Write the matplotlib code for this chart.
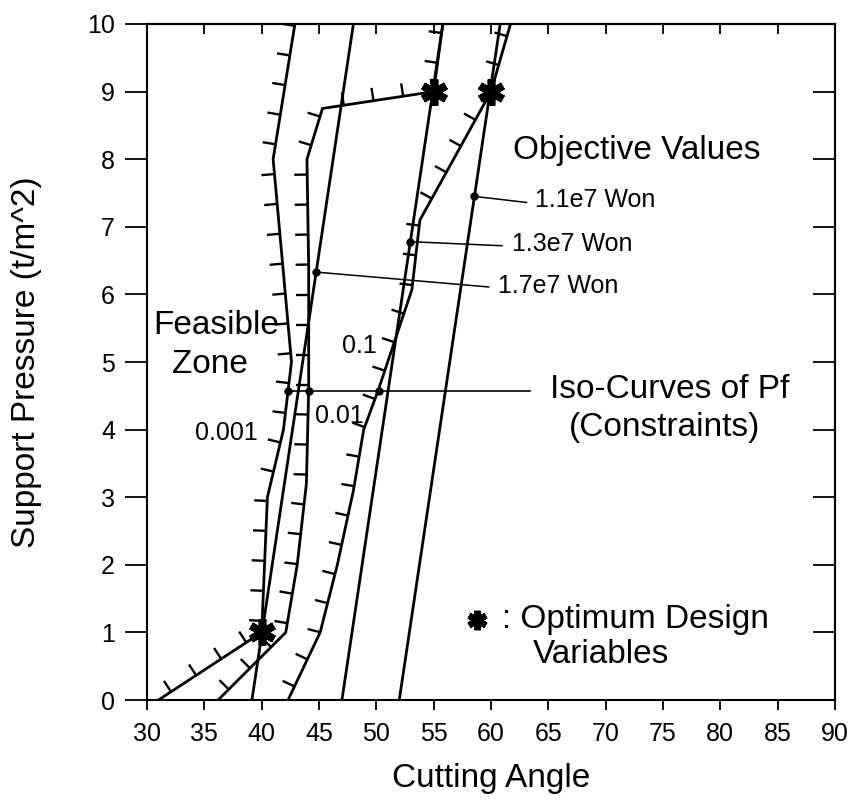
import numpy as np
import matplotlib
matplotlib.use("Agg")
import matplotlib.pyplot as plt

plt.rcParams['font.family'] = ['Liberation Sans', 'DejaVu Sans']

# Iso-curves of probability of failure (constraints)
pf_labels = ["0.001", "0.01", "0.1"]
pf_001_x = [31.0, 40.0, 40.5, 41.9, 42.6, 41.0, 42.9]
pf_001_y = [0.0, 1.0, 3.0, 4.0, 5.0, 8.0, 10.0]
pf_01_x = [36.2, 42.1, 43.1, 43.9, 44.1, 44.1, 43.95, 45.3, 55.0, 55.8]
pf_01_y = [0.0, 1.0, 2.0, 3.2, 4.6, 6.4, 8.0, 8.75, 9.0, 10.0]
pf_1_x = [42.3, 45.1, 46.6, 48.0, 48.9, 50.2, 53.1, 53.8, 60.0, 61.7]
pf_1_y = [0.0, 1.0, 2.0, 3.1, 4.0, 4.6, 6.07, 7.1, 9.0, 10.0]

# Objective (cost) iso-lines
obj_labels = ["1.1e7 Won", "1.3e7 Won", "1.7e7 Won"]
obj_x0 = [52.0, 47.0, 39.15]   # cutting angle at support pressure 0
obj_x1 = [60.8, 55.8, 48.0]    # cutting angle at support pressure 10
obj_dot_y = [7.45, 6.78, 6.33]
obj_text_x = [63.87, 61.82, 60.57]
obj_text_y = [7.29, 6.64, 6.02]
obj_line_end = [(63.1, 7.36), (60.95, 6.72), (59.8, 6.11)]

# Pf marker row
pf_dot_y = 4.57
pf_dot_x = [42.3, 44.1, 50.2]

# Optimum design variables
opt_x = [40.0, 55.0, 60.0]
opt_y = [1.0, 9.0, 9.0]

fig = plt.figure(figsize=(8.56, 8.05), dpi=100)
ax = fig.add_axes([147 / 856, 1 - 700 / 805, 688 / 856, 676 / 805])
ax.set_xlim(30, 90)
ax.set_ylim(0, 10)

LW = 2.0


def hatched(ax, xs, ys, spacing=30.0, length=13.0):
    """Draw a constraint curve with short ticks on its left-hand side."""
    ax.plot(xs, ys, color='black', lw=LW, solid_joinstyle='miter')
    pts = ax.transData.transform(np.column_stack([xs, ys]))
    seg = np.diff(pts, axis=0)
    seglen = np.hypot(seg[:, 0], seg[:, 1])
    cum = np.concatenate([[0], np.cumsum(seglen)])
    s = spacing * 0.5
    inv = ax.transData.inverted()
    while s < cum[-1]:
        i = np.searchsorted(cum, s) - 1
        i = max(0, min(i, len(seg) - 1))
        d = seg[i] / seglen[i]
        p = pts[i] + d * (s - cum[i])
        n = np.array([-d[1], d[0]])
        q = p + n * length
        a, b = inv.transform(np.vstack([p, q]))
        if 0 <= a[1] <= 10:
            ax.plot([a[0], b[0]], [a[1], b[1]], color='black', lw=1.7,
                    solid_capstyle='butt')
        s += spacing


hatched(ax, pf_001_x, pf_001_y)
hatched(ax, pf_01_x, pf_01_y)
hatched(ax, pf_1_x, pf_1_y)

# objective lines with leader lines to their labels
for x0, x1, dy, lab, tx, ty, end in zip(obj_x0, obj_x1, obj_dot_y, obj_labels,
                                         obj_text_x, obj_text_y, obj_line_end):
    ax.plot([x0, x1], [0, 10], color='black', lw=LW)
    dx = x0 + (x1 - x0) * dy / 10.0
    ax.plot([dx, end[0]], [dy, end[1]], color='black', lw=1.1)
    ax.plot([dx], [dy], 'o', color='black', ms=5)
    ax.text(tx, ty, lab, fontsize=18, ha='left', va='baseline')

# Pf leader line
ax.plot([pf_dot_x[0], 63.4], [pf_dot_y, pf_dot_y], color='black', lw=1.2)
ax.plot(pf_dot_x, [pf_dot_y] * 3, 'o', color='black', ms=5)

# optimum points
ax.plot(opt_x, opt_y, linestyle='none', marker=(6, 2, 0), ms=19, mew=5.5,
        color='black')
ax.plot(opt_x, opt_y, linestyle='none', marker='o', ms=10, color='black')

# text annotations
BIG = 24
ax.text(30.55, 5.41, "Feasible", fontsize=BIG, ha='left', va='baseline')
ax.text(32.2, 4.84, "Zone", fontsize=BIG, ha='left', va='baseline')
ax.text(34.2, 3.85, pf_labels[0], fontsize=18, ha='left', va='baseline')
ax.text(44.67, 4.10, pf_labels[1], fontsize=18, ha='left', va='baseline')
ax.text(47.0, 5.14, pf_labels[2], fontsize=18, ha='left', va='baseline')
ax.text(61.93, 8.0, "Objective Values", fontsize=BIG, ha='left', va='baseline')
ax.text(65.15, 4.47, "Iso-Curves of Pf", fontsize=BIG, ha='left', va='baseline')
ax.text(66.76, 3.90, "(Constraints)", fontsize=BIG, ha='left', va='baseline')
ax.plot([58.77], [1.19], linestyle='none', marker=(6, 2, 0), ms=14, mew=4.5,
        color='black')
ax.text(60.95, 1.07, ": Optimum Design", fontsize=BIG, ha='left', va='baseline')
ax.text(63.68, 0.55, "Variables", fontsize=BIG, ha='left', va='baseline')

# axes styling
ax.set_xticks(range(30, 91, 5))
ax.set_yticks(range(0, 11))
ax.tick_params(axis='y', direction='out', length=16, width=1.3, labelsize=18,
               pad=7)
ax.tick_params(axis='x', direction='out', length=7, width=1.3, labelsize=18,
               pad=9)
for sp in ax.spines.values():
    sp.set_linewidth(1.5)

top = ax.secondary_xaxis('top')
top.set_xticks(range(30, 91, 5))
top.tick_params(direction='in', length=7, width=1.3, labeltop=False)
right = ax.secondary_yaxis('right')
right.set_yticks(range(0, 11))
right.tick_params(direction='in', length=16, width=1.3, labelright=False)
top.spines['top'].set_linewidth(1.5)
right.spines['right'].set_linewidth(1.5)

ax.set_xlabel("Cutting Angle", fontsize=BIG)
ax.xaxis.set_label_coords(0.5, -0.093)
ax.set_ylabel("Support Pressure (t/m^2)", fontsize=BIG)
ax.yaxis.set_label_coords(-0.153, 0.5)

fig.savefig("out.png", dpi=100)
